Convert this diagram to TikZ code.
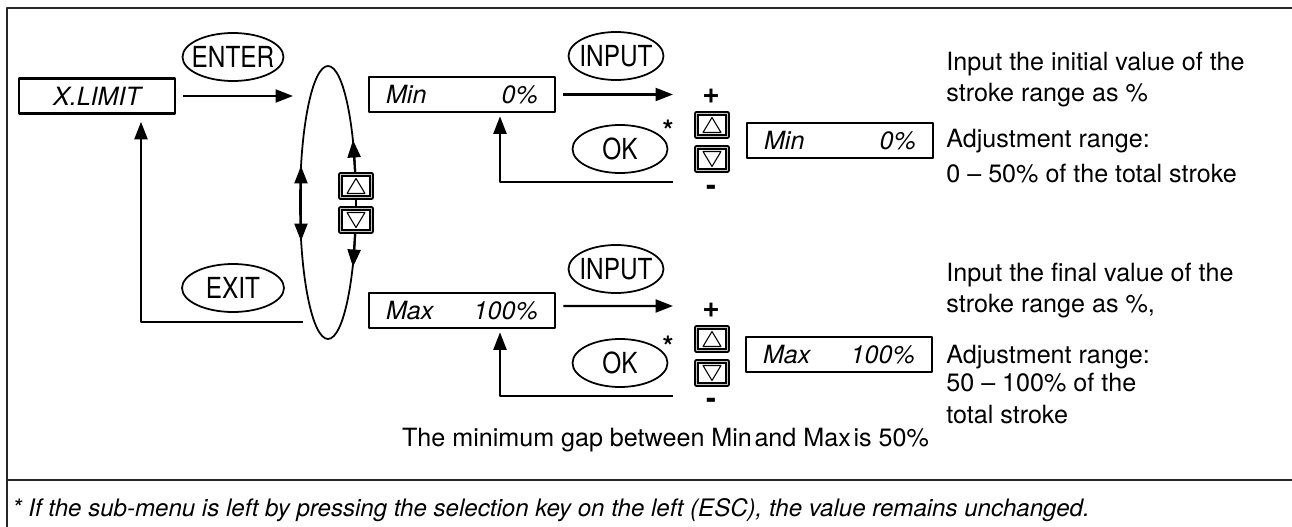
\documentclass[tikz,border=0pt]{standalone}
\usepackage{fontspec}
\setmainfont{TeX Gyre Heros}
\newfontfamily\keyfont[FakeStretch=0.84]{TeX Gyre Heros}
\usetikzlibrary{shapes.geometric,arrows.meta}

\begin{document}
\begin{tikzpicture}[x=0.02cm, y=0.02cm, line join=round,
  >={Triangle[length=3.5mm,width=2.6mm]},
  lcd/.style={draw, line width=1.5pt, minimum width=3.72cm, minimum height=0.7cm,
    inner sep=0pt, font=\fontsize{14.3}{17}\selectfont\itshape},
  key/.style={ellipse, draw, line width=1pt, minimum width=1.9cm, minimum height=0.96cm,
    inner xsep=-0.6cm, inner ysep=0pt, font=\fontsize{16.5}{19}\selectfont\keyfont},
  btn/.style={draw=black, double=gray!45, double distance=1pt, line width=0.7pt, fill=white,
    minimum width=0.62cm, minimum height=0.46cm, inner sep=0pt},
  keyup/.style={btn, path picture={\draw[line width=0.6pt]
    ([shift={(-0.18cm,-0.15cm)}]path picture bounding box.center)
    -- ++(0.36cm,0) -- ++(-0.18cm,0.3cm) -- cycle;}},
  keydn/.style={btn, path picture={\draw[line width=0.6pt]
    ([shift={(-0.18cm,0.15cm)}]path picture bounding box.center)
    -- ++(0.36cm,0) -- ++(-0.18cm,-0.3cm) -- cycle;}},
  arr/.style={line width=1.3pt, ->},
  txt/.style={anchor=base west, inner sep=0pt, font=\fontsize{14.3}{17}\selectfont},
  sgn/.style={inner sep=0pt, font=\fontsize{17}{17}\selectfont\bfseries}]

\useasboundingbox (0,0) rectangle (1292,-527);
\def\minmax#1#2{\makebox[3.04cm]{#1\hfill#2}}

%-----------------------
% frame and footnote rule
%-----------------------
\draw[line width=0.9pt, black!85] (1292,-8) -- (7,-8) -- (7,-527);
\draw[line width=0.9pt, black!85] (7,-480) -- (1292,-480);

%-----------------------
% menu entry and the selection ring
%-----------------------
\node[lcd, minimum width=3.12cm] (xlimit) at (97,-96) {X.LIMIT};
\node[key, minimum width=2.02cm] (enter) at (233,-57) {ENTER};
\node[key, minimum width=2.04cm] (exit) at (233,-288) {EXIT};

\coordinate (ring) at (328,-202.5);
\draw[line width=1pt] (ring) ellipse [x radius=28, y radius=136.5];

\coordinate (ringIn)  at (293,-96);
\coordinate (ringOut) at (303,-322);
\coordinate (ringL1)  at (301,-166);
\coordinate (ringL2)  at (301,-241);
\coordinate (ringUp)  at (353,-140);
\coordinate (ringDn)  at (353,-267);

\node[keyup] (upE) at (356,-186) {};
\node[keydn] (dnE) at (356,-220) {};

\draw[arr] ([xshift=0.14cm]xlimit.east) -- (ringIn);
\draw[arr] (ringOut) -| ([xshift=0.88cm,yshift=-0.14cm]xlimit.south);
\draw[arr, <->] (ringL1) -- (ringL2);
\draw[arr] (upE) -- (ringUp);
\draw[arr] (dnE) -- (ringDn);

%-----------------------
% Min: initial value
%-----------------------
\node[lcd] (minA) at (462,-94.5) {\minmax{Min}{0\%}};
\node[key] (inputA) at (616,-56) {INPUT};
\node[key] (okA) at (620,-149) {OK};
\node[sgn, font=\fontsize{16}{16}\selectfont\bfseries] (starA) at (668,-130) {*};

\node[sgn] (plusA)  at (711,-96)  {+};
\node[keyup] (upA)  at (712,-125) {};
\node[keydn] (dnA)  at (712,-159) {};
\node[sgn] (minusA) at (711,-190) {-};
\node[lcd] (minB)   at (840,-140.5) {\minmax{Min}{0\%}};

\coordinate (plusInA) at (673,-94.5);
\coordinate (retA)    at (673,-182);
\draw[arr] ([xshift=0.14cm]minA.east) -- (plusInA);
\draw[arr] (retA) -| ([xshift=0.76cm,yshift=-0.06cm]minA.south);

\node[txt] (descA1) at (946,-71)  {Input the initial value of the};
\node[txt] (descA2) at (946,-102) {stroke range as \%};
\node[txt] (descA3) at (946,-148) {Adjustment range:};
\node[txt] (descA4) at (946,-182) {0 -- 50\% of the total stroke};

%-----------------------
% Max: final value
%-----------------------
\node[lcd] (maxA) at (462,-310.5) {\minmax{Max}{100\%}};
\node[key] (inputB) at (616,-269) {INPUT};
\node[key] (okB) at (620,-363) {OK};
\node[sgn, font=\fontsize{16}{16}\selectfont\bfseries] (starB) at (668,-346) {*};

\node[sgn] (plusB)  at (711,-310) {+};
\node[keyup] (upB)  at (712,-339) {};
\node[keydn] (dnB)  at (712,-373) {};
\node[sgn] (minusB) at (711,-403) {-};
\node[lcd] (maxB)   at (839,-354.5) {\minmax{Max}{100\%}};

\coordinate (plusInB) at (673,-306);
\coordinate (retB)    at (673,-396);
\draw[arr] ([xshift=0.14cm,yshift=0.09cm]maxA.east) -- (plusInB);
\draw[arr] (retB) -| ([xshift=0.76cm,yshift=-0.06cm]maxA.south);

\node[txt] (descB1) at (946,-281) {Input the final value of the};
\node[txt] (descB2) at (946,-312) {stroke range as \%,};
\node[txt] (descB3) at (946,-363) {Adjustment range:};
\node[txt] (descB4) at (946,-391) {50 -- 100\% of the};
\node[txt] (descB5) at (946,-423) {total stroke};

\node[txt, anchor=base] (gap) at (665.5,-446)
  {The minimum gap between Min\kern1.5pt and Max\kern1.5pt is 50\%};

%-----------------------
% footnote
%-----------------------
\node[txt, font=\fontsize{13.7}{16}\selectfont\itshape] (note) at (12,-516)
  {* If the sub-menu is left by pressing the selection key on the left (ESC), the value remains unchanged.};

\end{tikzpicture}
\end{document}
